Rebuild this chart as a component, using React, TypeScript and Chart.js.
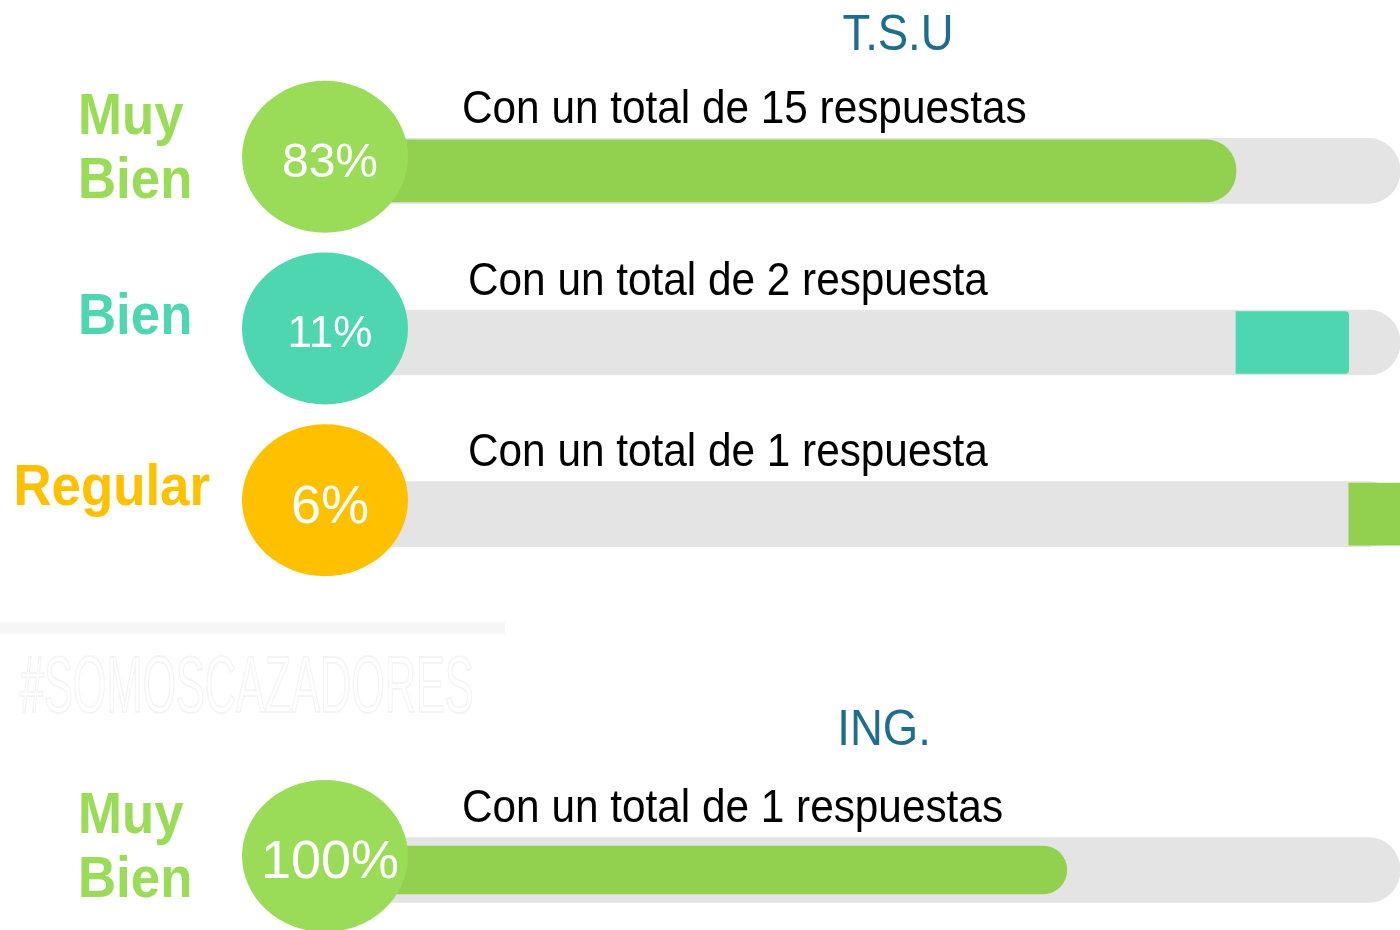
import React, { useEffect, useRef } from "react";
import { Chart, registerables } from "chart.js";

Chart.register(...registerables);

// ---- data ----
const tsuCategories = ["Muy Bien", "Bien", "Regular"];
const tsuPercent = [83, 11, 6];
const tsuResponses = [15, 2, 1];
const tsuUnit = ["respuestas", "respuesta", "respuesta"];

const ingCategories = ["Muy Bien"];
const ingPercent = [100];
const ingResponses = [1];
const ingUnit = ["respuestas"];
const ingBarEnd = [66.5]; // length of the drawn bar as shown in the picture

// ---- styles ----
const FONT = "'Liberation Sans', Arial, sans-serif";
const GREEN = "#92d050";
const GREEN_LIGHT = "#9adc58";
const TEAL = "#4dd6b0";
const YELLOW = "#ffc000";
const TRACK = "#e4e4e4";
const TITLE = "#1c6e8c";
const SQ = 0.91;
const X_MAX = 99;

type Group = {
  title: string;
  titleX: number;
  titleY: number;
  categories: string[];
  percent: number[];
  responses: number[];
  unit: string[];
  circleColors: string[];
  labelColors: string[];
  pctSizes: number[];
  watermark?: boolean;
};

function drawText(
  ctx: CanvasRenderingContext2D,
  s: string,
  x: number,
  y: number,
  font: string,
  color: string,
  align: CanvasTextAlign,
  sx = SQ
) {
  ctx.save();
  ctx.translate(x, y);
  ctx.scale(sx, 1);
  ctx.font = font;
  ctx.fillStyle = color;
  ctx.textAlign = align;
  ctx.textBaseline = "alphabetic";
  ctx.fillText(s, 0, 0);
  ctx.restore();
}

function overlayPlugin(g: Group) {
  return {
    id: "overlay",
    beforeDatasetsDraw(chart: any) {
      if (!g.watermark) return;
      const ctx = chart.ctx as CanvasRenderingContext2D;
      ctx.save();
      ctx.fillStyle = "#f6f6f6";
      ctx.fillRect(0, 622, 505, 12);
      ctx.restore();
      ctx.save();
      ctx.translate(20, 712);
      ctx.scale(0.54, 1);
      ctx.font = `80px ${FONT}`;
      ctx.strokeStyle = "#f4f4f4";
      ctx.lineWidth = 2;
      ctx.strokeText("#SOMOSCAZADORES", 0, 0);
      ctx.restore();
    },
    afterDatasetsDraw(chart: any) {
      const ctx = chart.ctx as CanvasRenderingContext2D;
      const meta = chart.getDatasetMeta(0);
      drawText(ctx, g.title, g.titleX, g.titleY, `50px ${FONT}`, TITLE, "center");
      g.categories.forEach((cat, i) => {
        const el = meta.data[i];
        if (!el) return;
        const by = el.y;
        const cx = 325;
        const cy = by - 14;
        // circle
        ctx.save();
        ctx.beginPath();
        ctx.ellipse(cx, cy, 83, 76, 0, 0, Math.PI * 2);
        ctx.fillStyle = g.circleColors[i];
        ctx.fill();
        ctx.restore();
        // percent text
        const ps = g.pctSizes[i];
        drawText(ctx, `${g.percent[i]}%`, cx + 5, cy + 0.36 * ps + 3, `${ps}px ${FONT}`, "#ffffff", "center", 1);
        // category label
        const lines = cat.split(" ");
        const lf = `bold 58px ${FONT}`;
        ctx.save();
        ctx.font = lf;
        const w = Math.max(...lines.map((l) => ctx.measureText(l).width)) * SQ;
        ctx.restore();
        const lx = Math.min(78, 210 - w);
        if (lines.length === 2) {
          drawText(ctx, lines[0], lx, cy - 23, lf, g.labelColors[i], "left");
          drawText(ctx, lines[1], lx, cy + 41, lf, g.labelColors[i], "left");
        } else {
          drawText(ctx, lines[0], lx, cy + 5, lf, g.labelColors[i], "left");
        }
        // responses text
        drawText(
          ctx,
          `Con un total de ${g.responses[i]} ${g.unit[i]}`,
          462 + (i === 0 ? 0 : 6),
          by - 48,
          `46.5px ${FONT}`,
          "#000000",
          "left"
        );
      });
    },
  };
}

function cumulativeRanges(vals: number[]) {
  let acc = 0;
  return vals.map((v) => {
    const r = [acc, acc + v];
    acc += v;
    return r;
  });
}

function BarGroup(props: {
  top: number;
  height: number;
  padTop: number;
  padBottom: number;
  labels: string[];
  ranges: number[][];
  barColors: string[];
  radii: number[];
  barThickness: number;
  group: Group;
}) {
  const ref = useRef<HTMLCanvasElement>(null);
  useEffect(() => {
    if (!ref.current) return;
    const chart = new Chart(ref.current, {
      type: "bar",
      data: {
        labels: props.labels,
        datasets: [
          {
            label: "valor",
            data: props.ranges as any,
            backgroundColor: props.barColors,
            borderRadius: (c: any) => {
              const r = props.radii[c.dataIndex] || 0;
              return { topLeft: 0, bottomLeft: 0, topRight: r, bottomRight: r };
            },
            borderSkipped: false,
            barThickness: props.barThickness,
            grouped: false,
            order: 1,
          } as any,
          {
            label: "pista",
            data: props.labels.map(() => [0, X_MAX]) as any,
            backgroundColor: TRACK,
            borderRadius: { topLeft: 0, bottomLeft: 0, topRight: 32, bottomRight: 32 },
            borderSkipped: false,
            barThickness: 65,
            grouped: false,
            order: 2,
          } as any,
        ],
      },
      options: {
        indexAxis: "y",
        responsive: true,
        maintainAspectRatio: false,
        animation: false,
        layout: { padding: { left: 385, right: 0, top: props.padTop, bottom: props.padBottom } },
        scales: {
          x: { min: 0, max: X_MAX, display: false },
          y: { display: false },
        },
        plugins: { legend: { display: false }, tooltip: { enabled: false } },
      },
      plugins: [overlayPlugin(props.group)],
    } as any);
    return () => chart.destroy();
  }, []);
  return (
    <div style={{ position: "absolute", left: 0, top: props.top, width: 1400, height: props.height }}>
      <canvas ref={ref} />
    </div>
  );
}

export default function App() {
  useEffect(() => {
    document.body.style.margin = "0";
  }, []);
  const tsuGroup: Group = {
    title: "T.S.U",
    titleX: 898,
    titleY: 50,
    categories: tsuCategories,
    percent: tsuPercent,
    responses: tsuResponses,
    unit: tsuUnit,
    circleColors: [GREEN_LIGHT, TEAL, YELLOW],
    labelColors: [GREEN_LIGHT, TEAL, YELLOW],
    pctSizes: [48, 44, 54],
    watermark: true,
  };
  const ingGroup: Group = {
    title: "ING.",
    titleX: 884,
    titleY: 55,
    categories: ingCategories,
    percent: ingPercent,
    responses: ingResponses,
    unit: ingUnit,
    circleColors: [GREEN_LIGHT],
    labelColors: [GREEN_LIGHT],
    pctSizes: [54],
  };
  return (
    <div
      style={{
        position: "absolute",
        left: 0,
        top: 0,
        width: 1400,
        height: 930,
        background: "#ffffff",
        overflow: "hidden",
      }}
    >
      <BarGroup
        top={0}
        height={725}
        padTop={85}
        padBottom={125}
        labels={tsuCategories}
        ranges={cumulativeRanges(tsuPercent)}
        barColors={[GREEN, TEAL, GREEN]}
        radii={[30, 4, 0]}
        barThickness={62}
        group={tsuGroup}
      />
      <BarGroup
        top={690}
        height={240}
        padTop={125}
        padBottom={5}
        labels={ingCategories}
        ranges={ingBarEnd.map((v) => [0, v])}
        barColors={[GREEN]}
        radii={[24]}
        barThickness={48}
        group={ingGroup}
      />
    </div>
  );
}
